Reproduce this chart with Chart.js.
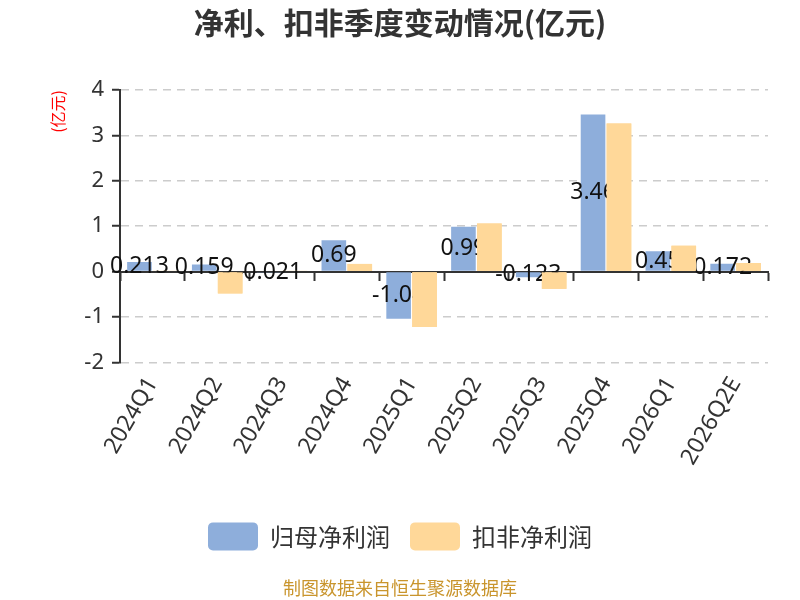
<!DOCTYPE html>
<html>
<head>
<meta charset="utf-8">
<script src="https://cdn.jsdelivr.net/npm/chart.js@4.4.0/dist/chart.umd.min.js"></script>
<style>
  html, body { margin: 0; padding: 0; background: #fff; }
  #wrap { width: 800px; height: 600px; }
</style>
</head>
<body>
<div id="wrap"><canvas id="barChart"></canvas></div>
<script>
const quarters = ["2024Q1","2024Q2","2024Q3","2024Q4","2025Q1","2025Q2","2025Q3","2025Q4","2026Q1","2026Q2E"];
const netProfit = [0.213, 0.159, -0.021, 0.69, -1.04, 0.99, -0.123, 3.46, 0.45, 0.172];
const deductedProfit = [0.02, -0.48, 0.02, 0.17, -1.22, 1.06, -0.38, 3.26, 0.57, 0.19];
const yTicks = [-2, -1, 0, 1, 2, 3, 4];

const numFont = "'Noto Sans', 'Noto Sans CJK SC', sans-serif";
const cjkFont = "'Noto Sans CJK SC', 'Noto Sans', sans-serif";

/* value labels in the middle of the blue bars; orange bars are painted again on top */
const barLabels = {
    id: "barLabels",
    afterDatasetsDraw(chart) {
        const ctx = chart.ctx;
        const blue = chart.getDatasetMeta(0);
        ctx.save();
        ctx.font = "23px " + numFont;
        ctx.fillStyle = "#111";
        ctx.textAlign = "center";
        ctx.textBaseline = "middle";
        blue.data.forEach((bar, i) => {
            ctx.fillText(String(netProfit[i]), bar.x, (bar.y + bar.base) / 2);
        });
        ctx.restore();
        chart.getDatasetMeta(1).controller.draw();
    }
};

new Chart(document.getElementById("barChart"), {
    type: "bar",
    data: {
        labels: quarters,
        datasets: [{
            label: "归母净利润",
            data: netProfit,
            backgroundColor: "#8eaedb",
            xAxisID: "x"
        }, {
            label: "扣非净利润",
            data: deductedProfit,
            backgroundColor: "#ffd899",
            xAxisID: "x"
        }]
    },
    options: {
        responsive: true,
        maintainAspectRatio: false,
        animation: false,
        categoryPercentage: 0.8,
        barPercentage: 0.95,
        layout: { padding: 0 },
        plugins: {
            title: {
                display: true,
                text: "净利、扣非季度变动情况(亿元)",
                color: "#333",
                font: { size: 30, weight: "bold", family: cjkFont },
                padding: { top: 5, bottom: 49 }
            },
            subtitle: {
                display: true,
                position: "bottom",
                text: "制图数据来自恒生聚源数据库",
                color: "#c9952d",
                font: { size: 18, family: cjkFont },
                padding: { top: 17, bottom: 1 }
            },
            legend: {
                position: "bottom",
                labels: {
                    boxWidth: 50,
                    boxHeight: 28,
                    useBorderRadius: true,
                    borderRadius: 5,
                    padding: 20,
                    color: "#333",
                    font: { size: 24, family: cjkFont }
                }
            },
            tooltip: { enabled: false }
        },
        scales: {
            x: {
                type: "category",
                position: { y: 0 },
                offset: true,
                ticks: { display: false },
                grid: {
                    offset: true,
                    drawOnChartArea: false,
                    drawTicks: true,
                    tickLength: 8,
                    tickColor: "#333",
                    tickWidth: 2
                },
                border: { color: "#333", width: 2 }
            },
            x2: {
                type: "category",
                position: "bottom",
                offset: true,
                grid: { display: false, drawTicks: false },
                border: { display: false },
                ticks: {
                    autoSkip: false,
                    minRotation: 60,
                    maxRotation: 60,
                    padding: 10,
                    color: "#333",
                    font: { size: 23, family: numFont }
                },
                afterFit(scale) { scale.height = 140; }
            },
            y: {
                min: -2,
                max: 4,
                afterBuildTicks(scale) {
                    scale.ticks = yTicks.map(v => ({ value: v }));
                },
                ticks: {
                    padding: 8,
                    color: "#333",
                    font: { size: 22, family: numFont }
                },
                grid: {
                    color: "#cccccc",
                    lineWidth: 1.5,
                    tickLength: 8,
                    tickColor: "#333",
                    tickWidth: 2,
                    tickBorderDash: []
                },
                border: { color: "#333", width: 2, dash: [8, 6] },
                title: {
                    display: true,
                    text: "(亿元)",
                    align: "end",
                    color: "#ff0000",
                    font: { size: 16, family: cjkFont },
                    padding: { top: 48, bottom: 0 }
                },
                afterFit(scale) { scale.width = 120; }
            },
            yRight: {
                type: "linear",
                position: "right",
                display: true,
                ticks: { display: false },
                grid: { display: false, drawTicks: false },
                border: { display: false },
                afterFit(scale) { scale.width = 32; }
            }
        }
    },
    plugins: [barLabels]
});
</script>
</body>
</html>
